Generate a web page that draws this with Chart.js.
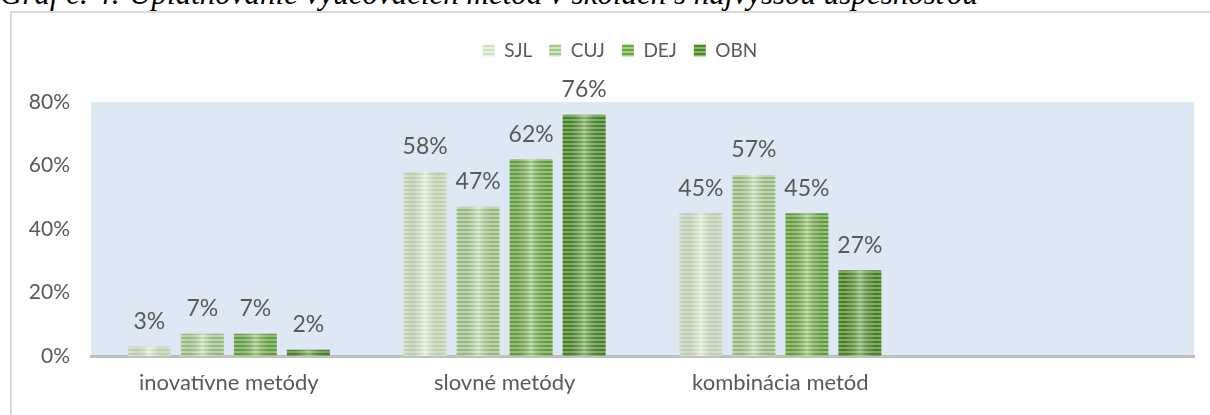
<!DOCTYPE html>
<html><head><meta charset="utf-8">
<script src="https://cdn.jsdelivr.net/npm/chart.js@4.4.1/dist/chart.umd.min.js"></script>
<style>
html,body{margin:0;padding:0;background:#fff;width:1210px;height:415px;overflow:hidden;position:relative;}
#cap{position:absolute;left:0;top:-22px;font-family:"Liberation Serif";font-style:italic;font-size:31px;line-height:31px;white-space:nowrap;color:#000;}
#frame{position:absolute;left:10px;top:11px;width:1240px;height:420px;border-left:2px solid #d9d9d9;border-top:2px solid #d9d9d9;box-sizing:border-box;}
#wrap{position:absolute;left:10px;top:11px;width:1220px;height:404px;}
</style></head><body>
<div id="cap">Graf č. 4: Uplatňovanie vyučovacích metód v školách s najvyššou úspešnosťou</div>
<div id="frame"></div>
<div id="wrap"><canvas id="c"></canvas></div>
<script>
const categories = ["inovatívne metódy", "slovné metódy", "kombinácia metód", ""];
const seriesNames = ["SJL", "CUJ", "DEJ", "OBN"];
const sjl = [3, 58, 45, null];
const cuj = [7, 47, 57, null];
const dej = [7, 62, 45, null];
const obn = [2, 76, 27, null];
const yTickValues = [0, 20, 40, 60, 80];

const FONT = "Lato";
const TXT = "#595959";

function stripes(base, light) {
  const c = document.createElement('canvas');
  c.width = 4; c.height = 4;
  const g = c.getContext('2d');
  g.fillStyle = base; g.fillRect(0, 0, 4, 4);
  g.fillStyle = light; g.fillRect(0, 0, 4, 2);
  return g.createPattern(c, 'repeat');
}
const fills = [
  stripes('#cfe2bf', '#eaf3e2'),
  stripes('#a0ca84', '#d2e7c4'),
  stripes('#68a93d', '#a6cf8a'),
  stripes('#4b872b', '#88ba66')
];

const bgPlugin = {
  id: 'bg',
  beforeDraw(chart) {
    const {ctx, chartArea: a} = chart;
    ctx.save();
    ctx.fillStyle = '#dde8f4';
    ctx.fillRect(a.left, a.top, a.right - a.left, a.bottom - a.top);
    ctx.restore();
  }
};
const shadePlugin = {
  id: 'shade',
  afterDatasetsDraw(chart) {
    const ctx = chart.ctx;
    ctx.save();
    chart.data.datasets.forEach((ds, i) => {
      const meta = chart.getDatasetMeta(i);
      meta.data.forEach((bar, j) => {
        if (ds.data[j] == null) return;
        const p = bar.getProps(['x', 'y', 'base', 'width'], true);
        const l = p.x - p.width / 2;
        const g = ctx.createLinearGradient(l, 0, l + p.width, 0);
        g.addColorStop(0, 'rgba(0,0,0,0.05)');
        g.addColorStop(0.5, 'rgba(255,255,255,0.35)');
        g.addColorStop(1, 'rgba(0,0,0,0.05)');
        ctx.fillStyle = g;
        ctx.fillRect(l, p.y, p.width, p.base - p.y);
      });
    });
    ctx.restore();
  }
};
const labelPlugin = {
  id: 'vals',
  afterDatasetsDraw(chart) {
    const ctx = chart.ctx;
    ctx.save();
    ctx.font = "23px " + FONT;
    ctx.fillStyle = TXT;
    ctx.textAlign = 'center';
    ctx.textBaseline = 'middle';
    chart.data.datasets.forEach((ds, i) => {
      const meta = chart.getDatasetMeta(i);
      meta.data.forEach((bar, j) => {
        const v = ds.data[j];
        if (v == null) return;
        const p = bar.getProps(['x', 'y'], true);
        ctx.fillText(v + '%', p.x, p.y - 25);
      });
    });
    ctx.restore();
  }
};
const legendGap = {
  id: 'legendGap',
  beforeInit(chart) {
    const orig = chart.legend.fit;
    chart.legend.fit = function () { orig.bind(chart.legend)(); this.height += 32; };
  }
};

const seriesData = [sjl, cuj, dej, obn];
new Chart(document.getElementById('c'), {
  type: 'bar',
  data: {
    labels: categories,
    datasets: seriesNames.map((n, i) => ({
      label: n,
      data: seriesData[i],
      backgroundColor: fills[i],
      borderWidth: 0,
      categoryPercentage: 0.769,
      barPercentage: 0.811
    }))
  },
  options: {
    responsive: true,
    maintainAspectRatio: false,
    animation: false,
    layout: {padding: {top: 13, right: 0, left: 0, bottom: 0}},
    plugins: {
      tooltip: {enabled: false},
      legend: {
        position: 'top',
        labels: {
          boxWidth: 12, boxHeight: 12, padding: 17,
          color: TXT, font: {family: FONT, size: 19}
        }
      }
    },
    scales: {
      x: {
        grid: {display: false, drawTicks: false},
        border: {display: true, color: '#bfbfbf', width: 3},
        ticks: {color: TXT, font: {family: FONT, size: 22}, padding: 14, maxRotation: 0},
        afterFit(s) { s.height = 59; }
      },
      y: {
        min: 0, max: 80,
        afterBuildTicks(s) { s.ticks = yTickValues.map(v => ({value: v})); },
        grid: {display: false, drawTicks: false},
        border: {display: false},
        ticks: {color: TXT, font: {family: FONT, size: 21}, padding: 21, callback: v => v + '%'},
        afterFit(s) { s.width = 81; }
      },
      yRight: {
        type: 'linear',
        position: 'right',
        min: 0, max: 80,
        grid: {display: false, drawTicks: false},
        border: {display: false},
        ticks: {display: false},
        afterFit(s) { s.width = 36; }
      }
    }
  },
  plugins: [legendGap, bgPlugin, shadePlugin, labelPlugin]
});
</script>
</body></html>
